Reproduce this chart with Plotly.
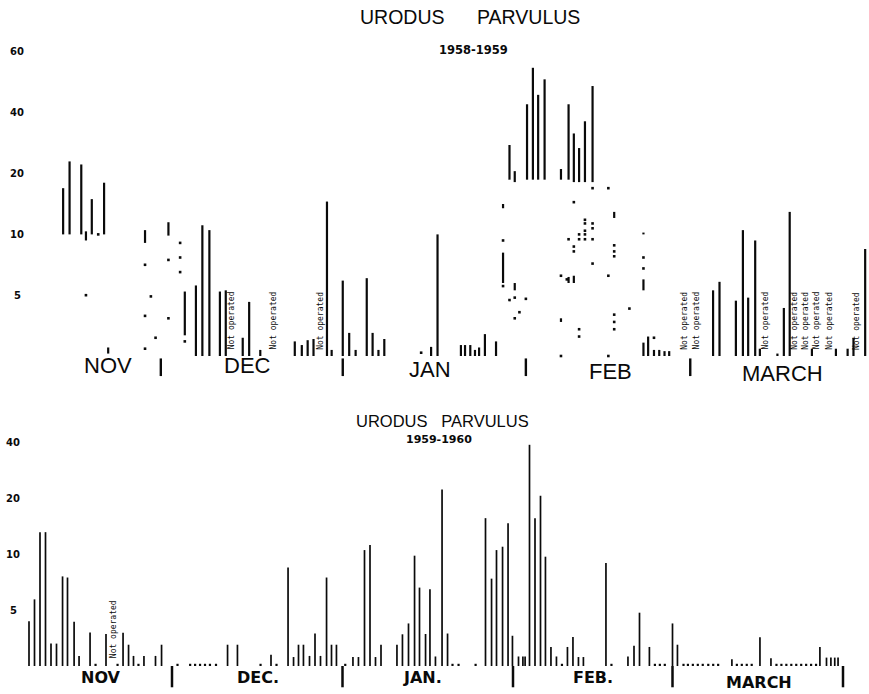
import numpy as np
import plotly.graph_objects as go

# ---------------- scale of the original (piecewise: 0,5,10,20,40,60 equally spaced)
AXIS_VALUES = [0, 5, 10, 20, 40, 60]
AXIS_LEVELS = [0, 1, 2, 3, 4, 5]

def scale(v):
    return float(np.interp(v, AXIS_VALUES, AXIS_LEVELS, left=v / 5.0))

# ---------------- 1958-1959 (day = days after 1 Nov)
top_bar_day = [13.1, 14.2, 16.2, 17.0, 18.0, 20.1, 20.8, 27.1, 31.1, 33.9, 35.8, 36.9, 38.1, 39.9,
               40.9, 43.8, 44.9, 46.8, 52.7, 53.9, 54.9, 55.9, 58.2, 59.0, 60.9, 62.0, 63.1, 65.0,
               66.0, 67.0, 68.0, 76.0, 77.1, 81.1, 81.8, 82.7, 83.5, 84.2, 85.2, 87.1, 88.3, 88.3,
               89.4, 90.3, 90.3, 92.4, 93.4, 94.3, 95.4, 98.2, 98.2, 99.5, 99.5, 100.4, 100.4, 101.3,
               102.3, 103.6, 107.3, 112.3, 112.3, 112.3, 113.1, 114.1, 115.0, 115.9, 116.7, 124.2,
               125.3, 128.1, 129.3, 130.2, 131.4, 132.2, 135.2, 136.3, 137.3, 141.1, 145.2, 147.2,
               148.2, 150.2]
top_bar_low = [10, 10, 10, 9.5, 10, 10, 0.2, 9.3, 9.9, 1.7, 0, 0, 0, 0,
               0, 0, 0, 0, 0, 0, 0, 0, 0, 0, 0, 0, 0, 0,
               0, 0, 0, 0, 0, 0, 0, 0, 0, 0, 0, 0, 14.3, 6.0,
               19, 18.6, 5.4, 19, 19, 19, 19, 19, 2.8, 19, 6.0, 18.6, 6.0, 18.6,
               18.6, 18.6, 12.7, 0, 5.4, 10.0, 0, 0, 0, 0, 0, 0,
               0, 0, 0, 0, 0, 0, 0, 0, 0, 0, 0, 0,
               0, 0]
top_bar_high = [17.6, 24, 23, 10.5, 15.8, 18.5, 0.7, 10.7, 12, 5.3, 5.8, 11.5, 10.7, 5.3,
                5.4, 1.5, 4.45, 0.5, 1.2, 0.9, 1.3, 1.4, 15.4, 0.5, 6.2, 1.9, 0.5, 6.4,
                1.9, 0.5, 1.4, 0.75, 10, 0.9, 0.9, 0.9, 0.5, 0.7, 1.8, 1.2, 15.0, 8.5,
                29.4, 20.8, 6.0, 42.8, 54.8, 45.9, 51, 21.5, 3.1, 42.8, 6.5, 33.2, 6.6, 28.4,
                37.2, 48.8, 13.7, 1.1, 6.3, 10.3, 1.6, 0.5, 0.5, 0.4, 0.4, 5.4,
                6.1, 4.55, 10.7, 4.8, 9.5, 0.6, 0.2, 3.95, 13.7, 0.6, 0.6, 0.6,
                1.5, 8.8]
top_dot_day = [17.0, 19.1, 27.1, 27.1, 27.1, 28.1, 28.9, 31.1, 31.1, 33.1, 33.1, 33.1, 33.9, 74.3,
               88.3, 88.3, 89.4, 90.3, 90.3, 91.1, 92.2, 98.2, 98.2, 99.2, 99.5, 100.4, 100.4, 100.4,
               101.3, 101.3, 101.3, 101.3, 102.3, 102.3, 102.3, 102.3, 102.3, 103.6, 103.6, 103.6,
               103.6, 103.6, 106.3, 106.3, 106.3, 107.3, 107.3, 107.3, 107.3, 107.3, 107.3, 109.9,
               112.3, 112.3, 114.1]
top_dot_val = [5.0, 10, 7.5, 3.3, 0.6, 4.9, 1.5, 7.9, 3.1, 9.3, 8.1, 6.9, 1.2, 0.27,
               9.5, 5.75, 4.6, 4.8, 3.1, 3.6, 4.7, 6.6, 0, 6.3, 9.6, 15.3, 9.0, 8.6,
               10.0, 9.6, 2.2, 1.6, 12.4, 11.8, 10.6, 10.0, 9.6, 17.6, 11.8, 11.0,
               9.6, 7.6, 17.6, 6.6, 0, 9.1, 8.6, 8.2, 3.4, 2.8, 2.2, 3.9,
               8.1, 7.2, 1.5]
top_not_operated_day = [41.9, 49.1, 57.2, 119.4, 121.4, 133.2, 138.2, 140.1, 141.9, 144.2, 148.7]
top_month_bounds = [29.8, 60.9, 92.2, 120.3]
top_months = ["NOV", "DEC", "JAN", "FEB", "MARCH"]
top_ticks = [5, 10, 20, 40, 60]

# ---------------- 1959-1960
bot_bar_day = [4.0, 5.0, 6.0, 7.0, 8.0, 9.0, 10.1, 11.0, 12.2, 13.1, 15.1, 18.0, 21.1, 22.1, 23.0,
               24.9, 27.0, 28.1, 40.1, 41.9, 48.0, 51.1, 52.1, 53.0, 53.9, 55.0, 56.0, 57.0, 58.1,
               59.0, 59.9, 62.9, 63.9, 65.0, 66.0, 67.0, 68.0, 70.9, 71.9, 73.0, 74.1, 75.0, 76.1,
               76.9, 77.9, 79.1, 80.1, 87.0, 88.1, 89.0, 90.1, 91.1, 91.9, 93.0, 93.8, 94.2, 95.0,
               96.0, 97.0, 97.9, 98.9, 99.9, 101.9, 102.9, 103.9, 104.8, 108.9, 112.9, 114.0, 115.0,
               116.8, 121.0, 121.9, 131.8, 136.9, 138.9, 147.8, 149.0, 149.8, 150.5, 151.1]
bot_bar_val = [4.0, 5.95, 13.9, 13.9, 2.0, 2.0, 8.0, 7.9, 3.95, 0.9, 3.0, 2.86, 2.97, 1.9, 0.9,
               0.9, 0.9, 1.9, 1.9, 1.9, 1.0, 8.8, 0.8, 1.9, 1.9, 0.9, 2.9, 0.9, 7.9,
               1.9, 1.9, 0.8, 0.8, 10.7, 11.6, 0.8, 1.9, 1.9, 2.83, 3.8, 9.85, 7.0, 2.86,
               6.85, 0.85, 23, 2.9, 16.4, 7.8, 10.7, 11.3, 15.5, 2.7, 0.85, 0.85, 0.85, 39,
               16.4, 20.8, 9.76, 1.7, 0.85, 1.7, 2.6, 0.8, 0.8, 9.2, 0.85, 1.8, 4.76,
               1.7, 3.8, 1.9, 0.6, 2.56, 0.7, 1.7, 0.75, 0.75, 0.75, 0.75]
bot_dot_day = [16.1, 20.1, 23.9, 31.0, 33.3, 34.2, 35.1, 36.0, 36.9, 38.0, 46.1, 49.0, 61.5, 81.0,
               82.1, 85.2, 100.9, 109.9, 117.8, 118.7, 119.6, 123.0, 123.8, 124.7, 125.6, 126.5,
               127.5, 128.4, 129.3, 132.7, 133.6, 134.5, 135.4, 139.9, 140.8, 141.7, 142.6, 143.5,
               144.4, 145.3, 146.2, 147.1]
bot_not_operated_day = [19.3]
bot_month_bounds = [30, 61, 92, 121, 152]
bot_months = ["NOV", "DEC.", "JAN.", "FEB.", "MARCH"]
bot_ticks = [5, 10, 20, 40]

W, H = 869, 694
INK = "#0a0a0a"
NB = "\u00a0"

def seg_xy(days, lows, highs):
    xs, ys = [], []
    for d, a, b in zip(days, lows, highs):
        xs += [d, d, None]
        ys += [scale(a), scale(b), None]
    return xs, ys

fig = go.Figure()

# top chart
x, y = seg_xy(top_bar_day, top_bar_low, top_bar_high)
fig.add_trace(go.Scatter(x=x, y=y, mode="lines", line=dict(color=INK, width=2.2),
                         xaxis="x", yaxis="y", hoverinfo="skip"))
fig.add_trace(go.Scatter(x=top_dot_day, y=[scale(v) for v in top_dot_val], mode="markers",
                         marker=dict(symbol="square", size=2.6, color=INK, line=dict(width=0)),
                         xaxis="x", yaxis="y", hoverinfo="skip"))
sx, sy = [], []
for d in top_month_bounds:
    sx += [d, d, None]
    sy += [-0.04, -0.33, None]
fig.add_trace(go.Scatter(x=sx, y=sy, mode="lines", line=dict(color=INK, width=2.4),
                         xaxis="x", yaxis="y", hoverinfo="skip"))

# bottom chart
x, y = seg_xy(bot_bar_day, [0] * len(bot_bar_day), bot_bar_val)
fig.add_trace(go.Scatter(x=x, y=y, mode="lines", line=dict(color=INK, width=1.7),
                         xaxis="x2", yaxis="y2", hoverinfo="skip"))
fig.add_trace(go.Scatter(x=bot_dot_day, y=[scale(0.1)] * len(bot_dot_day), mode="markers",
                         marker=dict(symbol="square", size=2.2, color=INK, line=dict(width=0)),
                         xaxis="x2", yaxis="y2", hoverinfo="skip"))
sx, sy = [], []
for d in bot_month_bounds:
    sx += [d, d, None]
    sy += [0, -0.38, None]
fig.add_trace(go.Scatter(x=sx, y=sy, mode="lines", line=dict(color=INK, width=2.5),
                         xaxis="x2", yaxis="y2", hoverinfo="skip"))

ann = []
def px_ann(text, px, py, size, family, weight="normal"):
    ann.append(dict(text=text, x=px / W, y=1 - py / H, xref="paper", yref="paper",
                    showarrow=False, xanchor="center", yanchor="middle",
                    font=dict(size=size, family=family, color=INK, weight=weight)))

# titles
px_ann("URODUS" + NB * 6 + "PARVULUS", 470, 17, 19.5, "Liberation Sans")
px_ann("1958-1959", 474, 50, 11.5, "DejaVu Sans", "bold")
px_ann("URODUS" + NB * 3 + "PARVULUS", 442, 421, 16.5, "Liberation Sans")
px_ann("1959-1960", 439, 439, 11, "DejaVu Sans", "bold")

# y tick labels
for t in top_ticks:
    ann.append(dict(text=str(t), x=17 / W, y=scale(t), xref="paper", yref="y", showarrow=False,
                    xanchor="center", yanchor="middle",
                    font=dict(size=10, family="DejaVu Sans", color=INK, weight="bold")))
for t in bot_ticks:
    ann.append(dict(text=str(t), x=13 / W, y=scale(t), xref="paper", yref="y2", showarrow=False,
                    xanchor="center", yanchor="middle",
                    font=dict(size=10, family="DejaVu Sans", color=INK, weight="bold")))

# month labels
top_label_days = [20.7, 44.7, 75.8, 106.6, 136.0]
top_label_lv = [-0.15, -0.15, -0.23, -0.26, -0.29]
for m, d, lv in zip(top_months, top_label_days, top_label_lv):
    ann.append(dict(text=m, x=d, y=lv, xref="x", yref="y", showarrow=False,
                    xanchor="center", yanchor="middle",
                    font=dict(size=22, family="Liberation Sans", color=INK)))
bot_label_days = [17.0, 45.6, 75.5, 106.5, 136.7]
bot_label_lv = [-0.21, -0.21, -0.21, -0.20, -0.29]
for m, d, lv in zip(bot_months, bot_label_days, bot_label_lv):
    ann.append(dict(text=m, x=d, y=lv, xref="x2", yref="y2", showarrow=False,
                    xanchor="center", yanchor="middle",
                    font=dict(size=16, family="DejaVu Sans", color=INK, weight="bold")))

# "Not operated" notes
for d in top_not_operated_day:
    ann.append(dict(text="Not operated", x=d, y=0.58, xref="x", yref="y", showarrow=False,
                    textangle=-90, xanchor="center", yanchor="middle",
                    font=dict(size=8, family="DejaVu Sans Mono", color=INK)))
for d in bot_not_operated_day:
    ann.append(dict(text="Not operated", x=d, y=0.66, xref="x2", yref="y2", showarrow=False,
                    textangle=-90, xanchor="center", yanchor="middle",
                    font=dict(size=8, family="DejaVu Sans Mono", color=INK)))

fig.update_layout(
    width=W, height=H, margin=dict(l=0, r=0, t=0, b=0),
    paper_bgcolor="white", plot_bgcolor="white", showlegend=False,
    annotations=ann,
    xaxis=dict(domain=[0, 1], range=[2.308, 150.855], visible=False, anchor="y"),
    yaxis=dict(domain=[1 - 385 / H, 1 - 40 / H], range=[-0.477, 5.197], visible=False, anchor="x"),
    xaxis2=dict(domain=[0, 1], range=[-1.273, 156.727], visible=False, anchor="y2"),
    yaxis2=dict(domain=[0, 1 - 405 / H], range=[-0.5, 4.6607], visible=False, anchor="x2"),
)

fig.write_html("out.html")
